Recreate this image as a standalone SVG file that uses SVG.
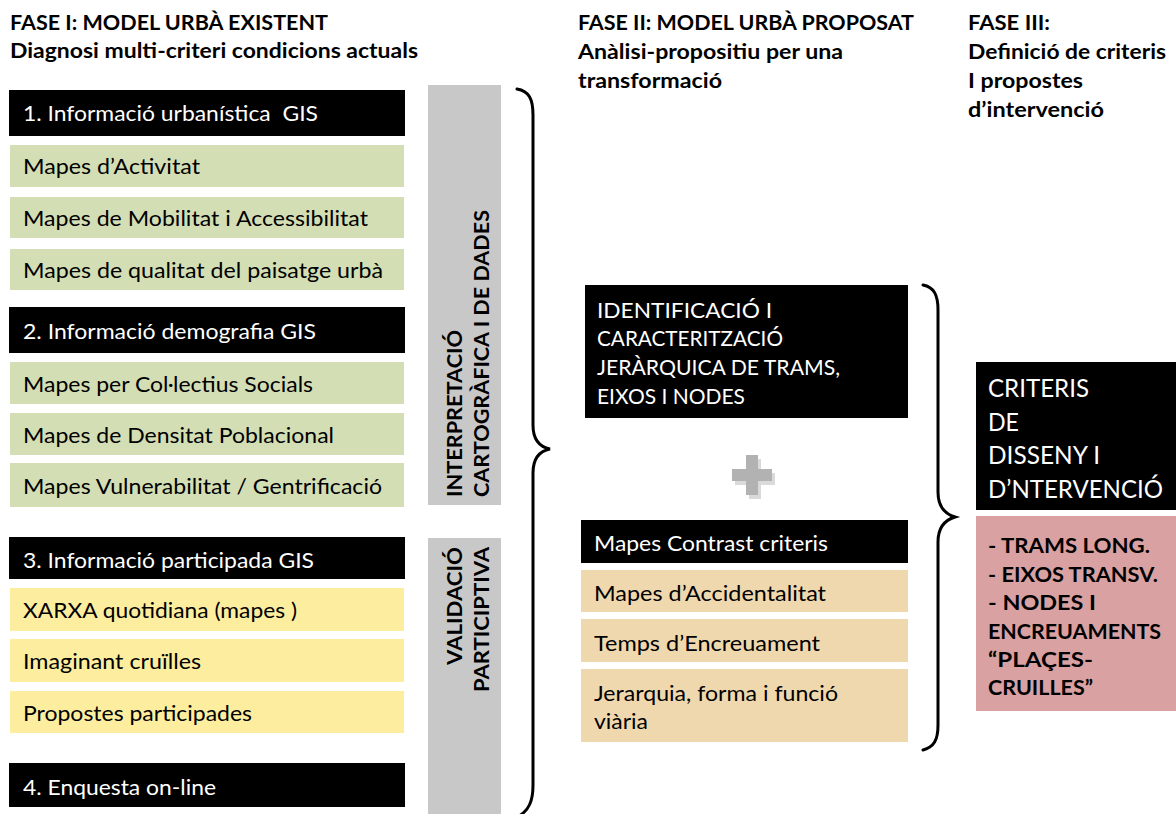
<svg xmlns="http://www.w3.org/2000/svg" width="1176" height="814" viewBox="0 0 1176 814">
  <style>
    text { font-family: Lato, "Open Sans", "Liberation Sans", sans-serif; }
    .hd { font-size: 21.5px; font-weight: bold; fill: #000; }
    .lbl { font-size: 22px; fill: #000; white-space: pre; }
    .wlbl { font-size: 22px; fill: #fff; white-space: pre; }
    .big { font-size: 25px; fill: #fff; }
    .lst { font-size: 20.5px; font-weight: bold; fill: #000; }
    .vt { font-size: 21px; font-weight: bold; fill: #000; }
    .blk { fill: #000; }
    .grn { fill: #d3deb4; }
    .yel { fill: #fdee9f; }
    .tan { fill: #f0d8ae; }
    .pnk { fill: #d9a1a1; }
    .bar { fill: #c8c8c8; }
    .brace { fill: none; stroke: #000; stroke-width: 3; stroke-linecap: round; }
  </style>
  <rect width="1176" height="814" fill="#fff"/>

  <!-- phase headers -->
  <g id="header-fase1">
    <text class="hd" x="10" y="30" textLength="318" lengthAdjust="spacingAndGlyphs">FASE I: MODEL URBÀ EXISTENT</text>
    <text class="hd" x="10" y="58" textLength="408" lengthAdjust="spacingAndGlyphs">Diagnosi multi-criteri condicions actuals</text>
  </g>
  <g id="header-fase2">
    <text class="hd" x="578" y="30" textLength="336" lengthAdjust="spacingAndGlyphs">FASE II: MODEL URBÀ PROPOSAT</text>
    <text class="hd" x="578" y="59" textLength="265" lengthAdjust="spacingAndGlyphs">Anàlisi-propositiu per una</text>
    <text class="hd" x="578" y="88" textLength="144" lengthAdjust="spacingAndGlyphs">transformació</text>
  </g>
  <g id="header-fase3">
    <text class="hd" x="968" y="30" textLength="82" lengthAdjust="spacingAndGlyphs">FASE III:</text>
    <text class="hd" x="968" y="59" textLength="198" lengthAdjust="spacingAndGlyphs">Definició de criteris</text>
    <text class="hd" x="968" y="88" textLength="115" lengthAdjust="spacingAndGlyphs">I propostes</text>
    <text class="hd" x="968" y="117" textLength="136" lengthAdjust="spacingAndGlyphs">d’intervenció</text>
  </g>

  <!-- phase I: information sources -->
  <g id="info-urbanistica">
    <rect class="blk" x="9" y="90" width="396" height="46"/>
    <text class="wlbl" x="23" y="121" textLength="295" lengthAdjust="spacingAndGlyphs">1. Informació urbanística  GIS</text>
  </g>
  <g id="mapes-activitat">
    <rect class="grn" x="10" y="145" width="394" height="42"/>
    <text class="lbl" x="23" y="174" textLength="177" lengthAdjust="spacingAndGlyphs">Mapes d’Activitat</text>
  </g>
  <g id="mapes-mobilitat">
    <rect class="grn" x="10" y="197" width="394" height="41"/>
    <text class="lbl" x="23" y="226" textLength="345" lengthAdjust="spacingAndGlyphs">Mapes de Mobilitat i Accessibilitat</text>
  </g>
  <g id="mapes-paisatge">
    <rect class="grn" x="10" y="249" width="394" height="41"/>
    <text class="lbl" x="23" y="278" textLength="360" lengthAdjust="spacingAndGlyphs">Mapes de qualitat del paisatge urbà</text>
  </g>

  <g id="info-demografia">
    <rect class="blk" x="9" y="307" width="396" height="46"/>
    <text class="wlbl" x="23" y="339" textLength="293" lengthAdjust="spacingAndGlyphs">2. Informació demografia GIS</text>
  </g>
  <g id="mapes-collectius">
    <rect class="grn" x="10" y="362" width="394" height="42"/>
    <text class="lbl" x="23" y="392" textLength="290" lengthAdjust="spacingAndGlyphs">Mapes per Col·lectius Socials</text>
  </g>
  <g id="mapes-densitat">
    <rect class="grn" x="10" y="413" width="394" height="42"/>
    <text class="lbl" x="23" y="443" textLength="311" lengthAdjust="spacingAndGlyphs">Mapes de Densitat Poblacional</text>
  </g>
  <g id="mapes-vulnerabilitat">
    <rect class="grn" x="10" y="463" width="394" height="44"/>
    <text class="lbl" x="23" y="494" textLength="359" lengthAdjust="spacingAndGlyphs">Mapes Vulnerabilitat / Gentrificació</text>
  </g>

  <g id="info-participada">
    <rect class="blk" x="9" y="537" width="396" height="42"/>
    <text class="wlbl" x="23" y="568" textLength="291" lengthAdjust="spacingAndGlyphs">3. Informació participada GIS</text>
  </g>
  <g id="xarxa-quotidiana">
    <rect class="yel" x="10" y="588" width="394" height="43"/>
    <text class="lbl" x="23" y="618" textLength="274" lengthAdjust="spacingAndGlyphs">XARXA quotidiana (mapes )</text>
  </g>
  <g id="imaginant-cruilles">
    <rect class="yel" x="10" y="639" width="394" height="43"/>
    <text class="lbl" x="23" y="669" textLength="178" lengthAdjust="spacingAndGlyphs">Imaginant cruïlles</text>
  </g>
  <g id="propostes-participades">
    <rect class="yel" x="10" y="691" width="394" height="42"/>
    <text class="lbl" x="23" y="721" textLength="229" lengthAdjust="spacingAndGlyphs">Propostes participades</text>
  </g>

  <g id="enquesta-online">
    <rect class="blk" x="9" y="763" width="396" height="44"/>
    <text class="wlbl" x="23" y="795" textLength="193" lengthAdjust="spacingAndGlyphs">4. Enquesta on-line</text>
  </g>

  <!-- vertical process bars -->
  <g id="interpretacio">
    <rect class="bar" x="428" y="85" width="73" height="420"/>
    <text class="vt" transform="translate(462,497) rotate(-90)" textLength="167" lengthAdjust="spacingAndGlyphs">INTERPRETACIÓ</text>
    <text class="vt" transform="translate(489,497) rotate(-90)" textLength="287" lengthAdjust="spacingAndGlyphs">CARTOGRÀFICA I DE DADES</text>
  </g>
  <g id="validacio">
    <rect class="bar" x="428" y="538" width="73" height="276"/>
    <text class="vt" transform="translate(462,665) rotate(-90)" textLength="118" lengthAdjust="spacingAndGlyphs">VALIDACIÓ</text>
    <text class="vt" transform="translate(489,692) rotate(-90)" textLength="145" lengthAdjust="spacingAndGlyphs">PARTICIPTIVA</text>
  </g>

  <!-- phase II -->
  <g id="identificacio">
    <rect class="blk" x="585" y="285" width="323" height="133"/>
    <text class="wlbl" x="597" y="318" textLength="175" lengthAdjust="spacingAndGlyphs">IDENTIFICACIÓ I</text>
    <text class="wlbl" x="597" y="346" textLength="186" lengthAdjust="spacingAndGlyphs">CARACTERITZACIÓ</text>
    <text class="wlbl" x="597" y="375" textLength="243" lengthAdjust="spacingAndGlyphs">JERÀRQUICA DE TRAMS,</text>
    <text class="wlbl" x="597" y="404" textLength="148" lengthAdjust="spacingAndGlyphs">EIXOS I NODES</text>
  </g>
  <g id="plus">
    <path d="M748,458 h12 v14 h14 v12 h-14 v14 h-12 v-14 h-14 v-12 h14 z" fill="#dadada" transform="translate(1,1)"/>
    <path d="M746,455 h12 v14 h14 v12 h-14 v14 h-12 v-14 h-14 v-12 h14 z" fill="#b2b2b2"/>
  </g>
  <g id="mapes-contrast">
    <rect class="blk" x="581" y="520" width="327" height="43"/>
    <text class="wlbl" x="594" y="551" textLength="234" lengthAdjust="spacingAndGlyphs">Mapes Contrast criteris</text>
  </g>
  <g id="mapes-accidentalitat">
    <rect class="tan" x="581" y="570" width="327" height="42"/>
    <text class="lbl" x="594" y="601" textLength="232" lengthAdjust="spacingAndGlyphs">Mapes d’Accidentalitat</text>
  </g>
  <g id="temps-encreuament">
    <rect class="tan" x="581" y="619" width="327" height="43"/>
    <text class="lbl" x="594" y="651" textLength="226" lengthAdjust="spacingAndGlyphs">Temps d’Encreuament</text>
  </g>
  <g id="jerarquia">
    <rect class="tan" x="581" y="669" width="327" height="73"/>
    <text class="lbl" x="594" y="701" textLength="244" lengthAdjust="spacingAndGlyphs">Jerarquia, forma i funció</text>
    <text class="lbl" x="594" y="729" textLength="54" lengthAdjust="spacingAndGlyphs">viària</text>
  </g>

  <!-- phase III -->
  <g id="criteris-disseny">
    <rect class="blk" x="976" y="362" width="200" height="148"/>
    <text class="big" x="988" y="397" textLength="101" lengthAdjust="spacingAndGlyphs">CRITERIS</text>
    <text class="big" x="988" y="431" textLength="31" lengthAdjust="spacingAndGlyphs">DE</text>
    <text class="big" x="988" y="464" textLength="112" lengthAdjust="spacingAndGlyphs">DISSENY I</text>
    <text class="big" x="988" y="498" textLength="175" lengthAdjust="spacingAndGlyphs">D’NTERVENCIÓ</text>
  </g>
  <g id="criteris-llista">
    <rect class="pnk" x="976" y="516" width="200" height="195"/>
    <text class="lst" x="988" y="553" textLength="162" lengthAdjust="spacingAndGlyphs">- TRAMS LONG.</text>
    <text class="lst" x="988" y="582" textLength="170" lengthAdjust="spacingAndGlyphs">- EIXOS TRANSV.</text>
    <text class="lst" x="988" y="610" textLength="108" lengthAdjust="spacingAndGlyphs">- NODES I</text>
    <text class="lst" x="988" y="639" textLength="173" lengthAdjust="spacingAndGlyphs">ENCREUAMENTS</text>
    <text class="lst" x="988" y="667" textLength="105" lengthAdjust="spacingAndGlyphs">“PLAÇES-</text>
    <text class="lst" x="988" y="695" textLength="105" lengthAdjust="spacingAndGlyphs">CRUILLES”</text>
  </g>

  <!-- grouping braces -->
  <g id="connectors">
    <path class="brace" d="M517,89 C529,91 533,99 533,115 L533,425 C533,440 540,447 550,449 C540,451 533,458 533,473 L533,785 C533,801 529,810 519,816"/>
    <path class="brace" d="M923,285 C934,287 938,295 938,310 L938,492 C938,507 945,514 955,517 C945,520 938,527 938,542 L938,725 C938,740 934,747 923,750"/>
  </g>
</svg>
